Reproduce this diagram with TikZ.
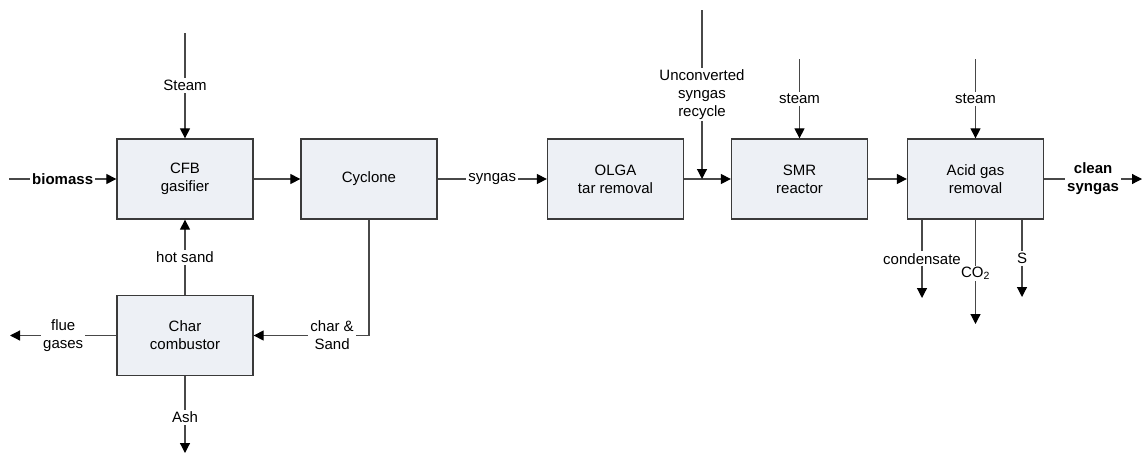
\documentclass[tikz,border=0pt]{standalone}
\usepackage{fontspec}
\setmainfont{Liberation Sans}
\usetikzlibrary{arrows.meta,calc}
\definecolor{boxfill}{HTML}{EDF0F5}
\definecolor{linec}{HTML}{484848}
\definecolor{boxline}{HTML}{3A3A3A}
\begin{document}
\begin{tikzpicture}[x=1pt,y=-1pt,
  font=\fontsize{15}{18}\selectfont,
  unit/.style={draw=boxline,fill=boxfill,line width=1.3pt,minimum width=136pt,minimum height=80pt,align=center,inner sep=0pt},
  flow/.style={draw=linec,line width=1.2pt,-{Triangle[length=10pt,width=10pt,fill=black,color=black]}},
  lbl/.style={fill=white,inner sep=2pt,align=center,text=black}]
\useasboundingbox (0,0) rectangle (1142,453);

% process units
\node[unit] (cfb) at (185,179) {CFB\\gasifier};
\node[unit] (cyc) at (369,179) {Cyclone};
\node[unit] (char) at (185,335.5) {Char\\combustor};
\node[unit] (olga) at (615.5,179) {OLGA\\tar removal};
\node[unit] (smr) at (799.5,179) {SMR\\reactor};
\node[unit] (agr) at (975.5,179) {Acid gas\\removal};

% free ends of the feed and product streams
\coordinate (steamin) at (185,33);
\coordinate (biomin) at (9,179);
\coordinate (flueout) at (10,335.5);
\coordinate (ashout) at (185,453);
\coordinate (recin) at (702,10);
\coordinate (recj) at (702,179);
\coordinate (smrsteam) at (799.5,59);
\coordinate (agrsteam) at (975.5,59);
\coordinate (cleanout) at (1142,179);
\coordinate (condout) at (922,298);
\coordinate (co2out) at (975.5,324);
\coordinate (sout) at (1022,297);

% gasifier loop
\draw[flow] (steamin) -- node[lbl] {Steam} (cfb.north);
\draw[flow] (biomin) -- node[lbl] {\bfseries biomass} (cfb.west);
\draw[flow] (cfb.east) -- (cyc.west);
\draw[flow] (char.north) -- node[lbl] {hot sand} (cfb.south);
\draw[flow] (cyc.south) |- node[lbl,pos=0.66] {char \&\\Sand} (char.east);
\draw[flow] (char.west) -- node[lbl] {flue\\gases} (flueout);
\draw[flow] (char.south) -- node[lbl,yshift=-3pt] {Ash} (ashout);

% gas cleaning train
\draw[flow] (cyc.east) -- node[lbl] {syngas} (olga.west);
\draw[flow] (olga.east) -- (smr.west);
\draw[flow] (recin) -- node[lbl] {Unconverted\\syngas\\recycle} (recj);
\draw[flow] (smrsteam) -- node[lbl] {steam} (smr.north);
\draw[flow] (smr.east) -- (agr.west);
\draw[flow] (agrsteam) -- node[lbl] {steam} (agr.north);
\draw[flow] (agr.east) -- node[lbl] {\bfseries clean\\\bfseries syngas} (cleanout);

% acid gas removal by-products
\draw[flow] (agr.south -| condout) -- node[lbl] {condensate} (condout);
\draw[flow] (agr.south) -- node[lbl,inner sep=1pt,yshift=-1.5pt] {CO\textsubscript{2}} (co2out);
\draw[flow] (agr.south -| sout) -- node[lbl] {S} (sout);
\end{tikzpicture}
\end{document}
